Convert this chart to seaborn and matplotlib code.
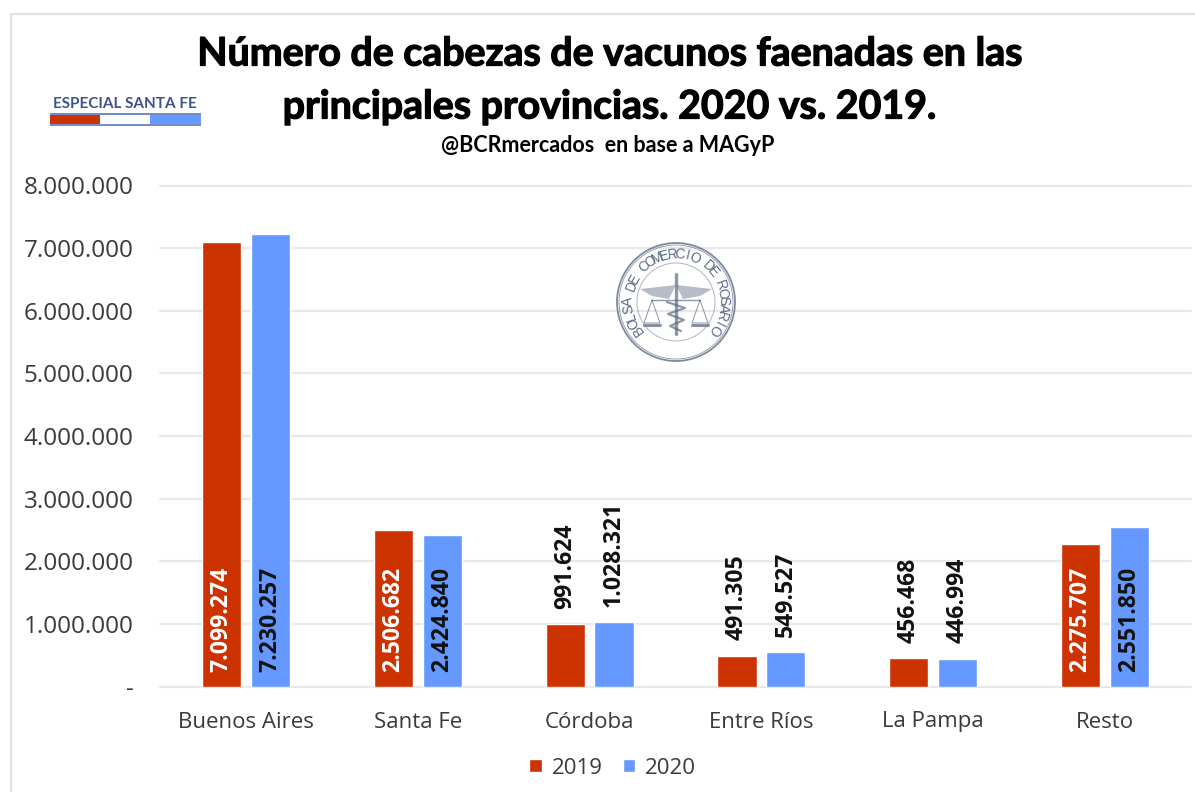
import numpy as np
import pandas as pd
import matplotlib
matplotlib.use("Agg")
import matplotlib.pyplot as plt
import seaborn as sns
import matplotlib.patheffects as pe
from matplotlib.patches import Circle, Rectangle, Polygon

provincias = ["Buenos Aires", "Santa Fe", "Córdoba", "Entre Ríos", "La Pampa", "Resto"]
valores_2019 = [7099274, 2506682, 991624, 491305, 456468, 2275707]
valores_2020 = [7230257, 2424840, 1028321, 549527, 446994, 2551850]
anios = ["2019", "2020"]
colores = ["#CC3300", "#6699FF"]
y_ticks = [0, 1000000, 2000000, 3000000, 4000000, 5000000, 6000000, 7000000, 8000000]

W, H = 1195, 792
LABEL_FONT = ["Open Sans", "DejaVu Sans"]
TITLE_FONT = ["Lato", "Liberation Sans", "DejaVu Sans"]


def miles(v):
    return f"{v:,.0f}".replace(",", ".")


def draw_seal(ov, cx, cy):
    c = "#5d6d86"
    ov.add_patch(Circle((cx, cy), 59, fill=False, ec=c, lw=1.3, alpha=0.8))
    ov.add_patch(Circle((cx, cy), 57, fill=False, ec=c, lw=0.6, alpha=0.7))
    ov.add_patch(Circle((cx, cy), 39, fill=False, ec=c, lw=0.7, alpha=0.5))
    letras = "BOLSA DE COMERCIO DE ROSARIO"
    angs = np.linspace(216, -36, len(letras))
    for ch, a in zip(letras, angs):
        x = cx + 47.5 * np.cos(np.radians(a))
        y = cy - 47.5 * np.sin(np.radians(a))
        ov.text(x, y, ch, rotation=a - 90, ha="center", va="center", rotation_mode="anchor",
                fontsize=10, color=c, family="Liberation Sans")
    # alas y baston
    ov.plot([cx, cx], [cy - 28, cy + 32], color=c, lw=2.4, alpha=0.7)
    ov.add_patch(Polygon([(cx, cy - 17), (cx - 36, cy - 13), (cx - 24, cy - 6), (cx - 7, cy - 3)],
                         color=c, alpha=0.45, lw=0))
    ov.add_patch(Polygon([(cx, cy - 17), (cx + 36, cy - 13), (cx + 24, cy - 6), (cx + 7, cy - 3)],
                         color=c, alpha=0.45, lw=0))
    ov.plot([cx - 9, cx + 9, cx - 8, cx + 8, cx - 6, cx + 5], [cy, cy + 6, cy + 12, cy + 18, cy + 24, cy + 29],
            color=c, lw=1.6, alpha=0.7)
    # balanzas
    for s in (-1, 1):
        bx = cx + s * 24
        ov.plot([cx, bx], [cy - 2, cy - 2], color=c, lw=1.0, alpha=0.7)
        ov.plot([bx, bx - 8, bx + 8, bx], [cy - 2, cy + 21, cy + 21, cy - 2], color=c, lw=0.7, alpha=0.7)
        ov.plot([bx - 8, bx + 8], [cy + 23, cy + 23], color=c, lw=2.2, alpha=0.75)


def make_chart():
    sns.set_theme(style="white")
    plt.rcParams["font.family"] = LABEL_FONT

    df = pd.DataFrame({
        "provincia": provincias * 2,
        "anio": [anios[0]] * len(provincias) + [anios[1]] * len(provincias),
        "cabezas": valores_2019 + valores_2020,
    })

    fig = plt.figure(figsize=(W / 100, H / 100), dpi=100, facecolor="white")
    ax = fig.add_axes([160 / W, 1 - 686.5 / H, (1191 - 160) / W, (686.5 - 185.5) / H])

    sns.barplot(data=df, x="provincia", y="cabezas", hue="anio", palette=colores,
                width=0.57, gap=0.2, saturation=1, ax=ax, zorder=3)

    ax.set_xlim(-0.5, 5.5)
    ax.set_ylim(0, 8000000)
    ax.set_yticks(y_ticks)
    ax.set_yticklabels(["-" if v == 0 else miles(v) for v in y_ticks])
    ax.set_xlabel("")
    ax.set_ylabel("")
    ax.grid(axis="y", color="#e8e8e8", lw=1.6, zorder=0, clip_on=False)
    ax.set_axisbelow(True)
    sns.despine(ax=ax, left=True, top=True, right=True, bottom=True)
    ax.tick_params(axis="y", length=0, pad=19, labelsize=17.5, labelcolor="#3a3a3a")
    ax.tick_params(axis="x", length=0, pad=18, labelsize=16, labelcolor="#3a3a3a")

    # etiquetas de datos
    for i, cont in enumerate(ax.containers):
        for bar, val in zip(cont, [valores_2019, valores_2020][i]):
            x = bar.get_x() + bar.get_width() / 2
            if val > 2000000:
                col = "white" if i == 0 else "#111111"
                ax.annotate(miles(val), (x, 0), xytext=(0, 10.5), textcoords="offset points",
                            rotation=90, ha="center", va="bottom", fontsize=16.6, color=col,
                            fontweight="bold", zorder=5)
            else:
                ax.annotate(miles(val), (x, val), xytext=(0, 11), textcoords="offset points",
                            rotation=90, ha="center", va="bottom", fontsize=16.6, color="#111111",
                            fontweight="bold", zorder=5)

    ax.legend(loc="center", bbox_to_anchor=(612.5 / W, 1 - 768 / H), bbox_transform=fig.transFigure,
              ncol=2, frameon=False, fontsize=16, handlelength=0.55, handleheight=0.55,
              handletextpad=0.45, columnspacing=0.9, labelcolor="#3a3a3a")

    # capa de adornos en pixeles
    ov = fig.add_axes([0, 0, 1, 1], facecolor="none", zorder=10)
    ov.set_xlim(0, W)
    ov.set_ylim(H, 0)
    ov.axis("off")

    ov.plot([11, 11, W], [H, 14, 14], color="#e2e2e2", lw=1.6)

    grueso = [pe.withStroke(linewidth=0.9, foreground="black")]
    ov.text(609, 54, "Número de cabezas de vacunos faenadas en las", ha="center", va="center",
            fontsize=28.3, fontweight="bold", color="black", family=TITLE_FONT, path_effects=grueso)
    ov.text(609, 107, "principales provincias. 2020 vs. 2019.", ha="center", va="center",
            fontsize=28.3, fontweight="bold", color="black", family=TITLE_FONT, path_effects=grueso)
    ov.text(608, 145, "@BCRmercados  en base a MAGyP", ha="center", va="center",
            fontsize=15.5, fontweight="bold", color="black", family=TITLE_FONT)

    ov.text(125, 104, "ESPECIAL SANTA FE", ha="center", va="center", fontsize=11,
            fontweight="bold", color="#3b5488", family=TITLE_FONT)
    ov.add_patch(Rectangle((50, 113), 151, 13, color="#6f8fc4", lw=0))
    ov.add_patch(Rectangle((50, 115), 50, 9, color=colores[0], lw=0))
    ov.add_patch(Rectangle((100, 115), 50, 9, color="white", lw=0))
    ov.add_patch(Rectangle((150, 115), 51, 9, color=colores[1], lw=0))

    draw_seal(ov, 676, 302)

    fig.savefig("out.png", dpi=100)
    plt.close(fig)


if __name__ == "__main__":
    make_chart()
